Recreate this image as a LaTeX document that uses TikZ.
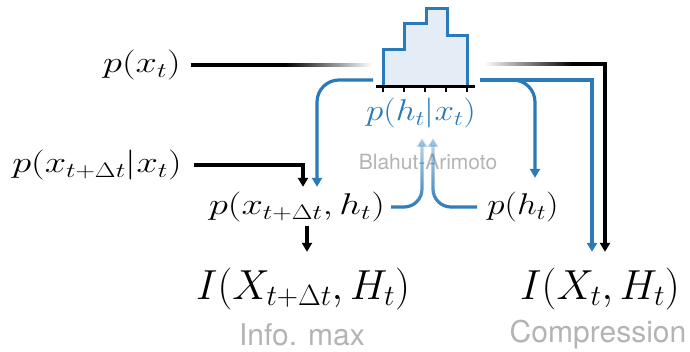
\RequirePackage{fix-cm}
\documentclass[tikz,border=0pt]{standalone}
\usepackage{fontspec}
\usepackage{graphicx}
\newfontfamily\heros{TeX Gyre Heros}
\usetikzlibrary{arrows.meta, fadings}

\definecolor{hblue}{HTML}{2A7AB9}
\definecolor{hfill}{HTML}{E4EDF6}
\definecolor{lgray}{HTML}{B4B4B4}
\tikzfading[name=upfade, bottom color=transparent!0, top color=transparent!75]
\newcommand{\wide}[2][1.28]{\scalebox{#1}[1]{#2}}

\begin{document}
\begin{tikzpicture}[
    x=1pt, y=-1pt,
    dist/.style={inner sep=0pt, font=\fontsize{30}{36}\selectfont},
    info/.style={inner sep=0pt, font=\fontsize{42}{50}\selectfont},
    caption/.style={inner sep=0pt, text=lgray, font=\heros\fontsize{30}{36}\selectfont},
    line/.style={draw, line width=3.2pt},
    bline/.style={draw=hblue, line width=3.2pt},
    tip/.style={-{Triangle[width=10pt,length=9pt]}}
]
\useasboundingbox (0,0) rectangle (690,351);

% Distributions
\node[dist] (px) at (142,65) {\wide{$p(x_t)$}};
\node[dist] (pxx) at (97,165) {\wide{$p(x_{t+\Delta t}|x_t)$}};
\node[dist] (pxh) at (297,207) {\wide{$p(x_{t+\Delta t},h_t)$}};
\node[dist] (ph) at (523,207) {\wide[1.17]{$p(h_t)$}};
\node[dist, text=hblue] (phx) at (421,113) {\wide[1.17]{$p(h_t|x_t)$}};

% Objectives
\node[info] (imax) at (303,289) {$I(X_{t+\Delta t},H_t)$};
\node[info] (icomp) at (600,289) {$I(X_t,H_t)$};
\node[caption] (lmax) at (302,335) {Info. max};
\node[caption] (lcomp) at (598,335) {Compression};
\node[caption, font=\heros\fontsize{21}{25}\selectfont] (ba) at (428,162) {Blahut-Arimoto};

% Encoder histogram
\fill[hfill] (383,86) -- (383,49) -- (404,49) -- (404,23) -- (426,23) -- (426,8)
    -- (447,8) -- (447,35) -- (467,35) -- (467,86) -- cycle;
\draw[hblue, line width=3pt] (383,86) -- (383,49) -- (404,49) -- (404,23) -- (426,23)
    -- (426,8) -- (447,8) -- (447,35) -- (467,35) -- (467,86);
\draw[line width=3pt] (376,86) -- (475,86);
\foreach \x in {383,404,425,446,467}
    \draw[line width=2.6pt] (\x,86) -- (\x,92);
\coordinate (hl) at (373,80);
\coordinate (hr) at (480,80);

% Black connectors
\coordinate (fade1) at (285,65);
\coordinate (fade2) at (572,64);
\draw[line] ([xshift=10]px.east) -- (fade1);
\shade[left color=black, right color=white] (285,63.4) rectangle (372,66.6);
\shade[left color=white, right color=black] (484,62.4) rectangle (572.5,65.6);
\draw[line, tip, shorten >=16pt] (fade2) -| ([xshift=5]icomp.north);
\draw[line, tip, shorten >=5pt] ([xshift=12]pxx.east) -| ([xshift=6]pxh.north);
\draw[line, tip, shorten <=4pt, shorten >=16pt] ([xshift=10]pxh.south) -- ([xshift=10]pxh.south |- imax.north);

% Blue connectors
\draw[bline, tip, rounded corners=22pt, shorten >=5pt] (hl) -| ([xshift=20]pxh.north);
\draw[bline, tip, shorten >=16pt] (hr) -| ([xshift=-8]icomp.north);
\draw[bline, tip, rounded corners=22pt, shorten >=14pt] (hr) ++(20,0) -| ([xshift=12]ph.north);

% Blahut-Arimoto
\draw[bline, tip, rounded corners=18pt, path fading=upfade] ([xshift=6]pxh.east) -| (422,138);
\draw[bline, tip, rounded corners=18pt, path fading=upfade] ([xshift=-10]ph.west) -| (433,138);

\end{tikzpicture}
\end{document}
